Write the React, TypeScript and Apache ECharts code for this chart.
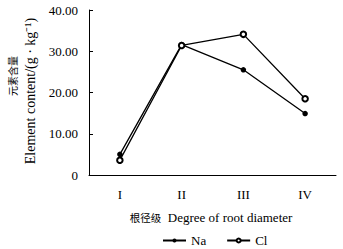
import React, { useEffect, useRef } from "react";
import * as echarts from "echarts";

const categories = ["I", "II", "III", "IV"];
const naValues = [5.0, 31.6, 25.5, 14.9];
const clValues = [3.6, 31.4, 34.1, 18.5];
const yTicks = { min: 0, max: 40, interval: 10 };

const SERIF = "Liberation Serif";
const CJK = "Noto Sans CJK SC";

export default function App() {
  const ref = useRef<HTMLDivElement>(null);
  useEffect(() => {
    const chart = echarts.init(ref.current!, undefined, { renderer: "svg" });
    chart.setOption({
      animation: false,
      backgroundColor: "#fff",
      grid: { left: 89, right: 7, top: 10, bottom: 74 },
      xAxis: {
        type: "category",
        data: categories,
        boundaryGap: true,
        axisLine: { lineStyle: { color: "#000", width: 1 } },
        axisTick: { inside: true, length: 4, lineStyle: { color: "#000" } },
        axisLabel: { color: "#000", fontFamily: SERIF, fontSize: 13, margin: 13 },
        splitLine: { show: false },
      },
      yAxis: {
        type: "value",
        min: yTicks.min,
        max: yTicks.max,
        interval: yTicks.interval,
        axisLine: { show: true, lineStyle: { color: "#000", width: 1 } },
        axisTick: { show: true, inside: true, length: 4, lineStyle: { color: "#000" } },
        axisLabel: {
          color: "#000",
          fontFamily: SERIF,
          fontSize: 13,
          margin: 11,
          formatter: (v: number) => (v === 0 ? "0" : v.toFixed(2)),
        },
        splitLine: { show: false },
      },
      legend: {
        top: 234,
        left: 162,
        padding: 0,
        itemGap: 20,
        itemWidth: 23,
        itemHeight: 5,
        textStyle: { color: "#000", fontFamily: SERIF, fontSize: 13, lineHeight: 13 },
        data: ["Na", "Cl"],
      },
      graphic: [
        {
          type: "text",
          x: 211,
          y: 217,
          style: {
            text: "{c|根径级}  {e|Degree of root diameter}",
            fill: "#000",
            align: "center",
            verticalAlign: "middle",
            rich: {
              c: { fontFamily: CJK, fontSize: 10.5, fill: "#000" },
              e: { fontFamily: SERIF, fontSize: 13, fill: "#000" },
            },
          },
        },
        {
          type: "text",
          x: 12,
          y: 76,
          rotation: Math.PI / 2,
          style: {
            text: "元素含量",
            fill: "#000",
            fontSize: 10,
            fontFamily: CJK,
            align: "center",
            verticalAlign: "middle",
          },
        },
        {
          type: "text",
          x: 30,
          y: 91,
          rotation: Math.PI / 2,
          style: {
            text: "Element content/(g · kg⁻¹)",
            fill: "#000",
            fontSize: 14,
            fontFamily: SERIF,
            align: "center",
            verticalAlign: "middle",
          },
        },
      ],
      series: [
        {
          name: "Na",
          type: "line",
          data: naValues,
          symbol: "circle",
          symbolSize: 5.5,
          itemStyle: { color: "#000" },
          lineStyle: { color: "#000", width: 1.3 },
        },
        {
          name: "Cl",
          type: "line",
          data: clValues,
          symbol: "emptyCircle",
          symbolSize: 5.5,
          itemStyle: { color: "#000", borderColor: "#000", borderWidth: 1 },
          lineStyle: { color: "#000", width: 1.3 },
        },
      ],
    });
    return () => chart.dispose();
  }, []);
  return (
    <div
      ref={ref}
      style={{ position: "fixed", left: 0, top: 0, width: 343, height: 249 }}
    />
  );
}
